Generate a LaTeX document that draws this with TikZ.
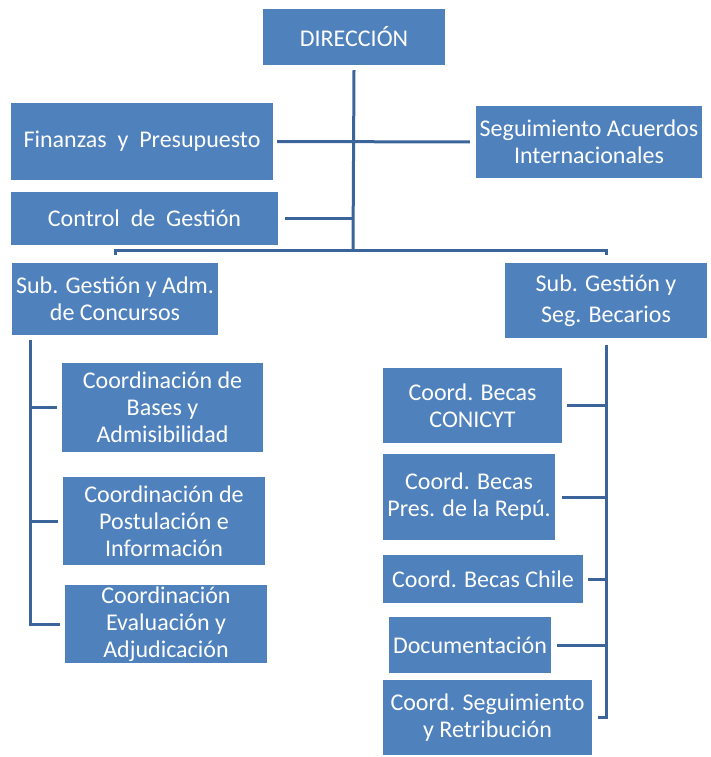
\documentclass[tikz,border=0pt]{standalone}
\usepackage{fontspec}
\setmainfont{Carlito}
\definecolor{boxblue}{HTML}{4F81BD}
\definecolor{lineblue}{HTML}{3B659A}
\tikzset{
	unit/.style={fill=boxblue, text=white, align=center, inner sep=1pt, font=\fontsize{24}{27}\selectfont},
	link/.style={draw=lineblue, line width=3pt},
}
\begin{document}
\begin{tikzpicture}[x=1pt, y=-1pt]
	\useasboundingbox (0,0) rectangle (711,757);

	\node[unit, minimum width=182pt, minimum height=56pt] (dir) at (354,37) {DIRECCIÓN};
	\node[unit, minimum width=262pt, minimum height=77pt] (finanzas) at (142,141.5) {Finanzas\ \ y\ \ Presupuesto};
	\node[unit, minimum width=226pt, minimum height=72pt] (seguim) at (589,142) {Seguimiento Acuerdos\\Internacionales};
	\node[unit, minimum width=267pt, minimum height=53pt] (control) at (144.5,218.5) {Control\ \ de\ \ Gestión};

	\node[unit, minimum width=206pt, minimum height=72pt] (subconc) at (115,299) {Sub. Gestión y Adm.\\de Concursos};
	\node[unit, minimum width=202pt, minimum height=75pt] (subbec) at (606,300.5) {Sub. Gestión y\\[4pt]Seg. Becarios};

	% concursos
	\node[unit, minimum width=201pt, minimum height=89pt] (bases) at (162.5,407.5) {Coordinación de\\Bases y\\Admisibilidad};
	\node[unit, minimum width=202pt, minimum height=88pt] (postul) at (164,521) {Coordinación de\\Postulación e\\Información};
	\node[unit, minimum width=202pt, minimum height=78pt] (evalua) at (166,624) {Coordinación\\Evaluación y\\Adjudicación};

	% becarios
	\node[unit, minimum width=179pt, minimum height=75pt] (conicyt) at (472.5,405.5) {Coord. Becas\\CONICYT};
	\node[unit, minimum width=172pt, minimum height=86pt] (presrep) at (469,497) {Coord. Becas\\Pres. de la Repú.};
	\node[unit, minimum width=200pt, minimum height=48pt] (bchile) at (483,579) {Coord. Becas Chile};
	\node[unit, minimum width=162pt, minimum height=56pt] (docu) at (470,645) {Documentación};
	\node[unit, minimum width=209pt, minimum height=75pt] (coordseg) at (487.5,717.5) {Coord. Seguimiento\\y Retribución};

	\coordinate (jbus) at (353,250);
	\coordinate (lbus) at (30,340);

	\draw[link] ([yshift=-5pt]dir.south) -- (jbus);
	\draw[link, shorten <=4pt, shorten >=6pt] (finanzas.east) -- (seguim.west);
	\draw[link, shorten <=7pt] (control.east) -- (control.east -| jbus);
	\draw[link] ([yshift=8pt]subconc.north) |- (jbus) -| ([yshift=8pt]subbec.north);

	\draw[link] (lbus) |- ([xshift=-5pt]evalua.west);
	\draw[link, shorten >=5pt] (lbus |- bases.west) -- (bases.west);
	\draw[link, shorten >=5pt] (lbus |- postul.west) -- (postul.west);

	\draw[link] ([yshift=-7pt]subbec.south) |- ([xshift=6pt]coordseg.east);
	\draw[link, shorten >=5pt] (subbec.south |- conicyt.east) -- (conicyt.east);
	\draw[link, shorten >=7pt] (subbec.south |- presrep.east) -- (presrep.east);
	\draw[link, shorten >=5pt] (subbec.south |- bchile.east) -- (bchile.east);
	\draw[link, shorten >=6pt] (subbec.south |- docu.east) -- (docu.east);

\end{tikzpicture}
\end{document}
